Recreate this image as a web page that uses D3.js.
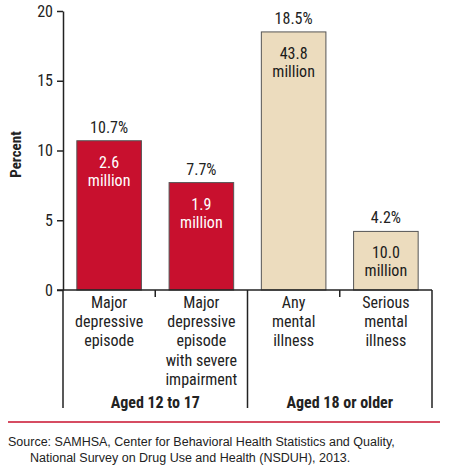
<!DOCTYPE html>
<html><head><meta charset="utf-8">
<script src="https://cdn.jsdelivr.net/npm/d3@7/dist/d3.min.js"></script>
<style>
html,body{margin:0;padding:0;background:#fff;}
svg{display:block;}
</style></head>
<body>
<svg id="chart" width="450" height="472"></svg>
<script>
const categories = ["Major depressive episode", "Major depressive episode with severe impairment", "Any mental illness", "Serious mental illness"];
const categoryLines = [["Major","depressive","episode"],["Major","depressive","episode","with severe","impairment"],["Any","mental","illness"],["Serious","mental","illness"]];
const percents = [10.7, 7.7, 18.5, 4.2];
const millions = ["2.6", "1.9", "43.8", "10.0"];
const groupOf = [0, 0, 1, 1];
const groups = ["Aged 12 to 17", "Aged 18 or older"];
const yTicks = [0, 5, 10, 15, 20];
const sourceLines = ["Source: SAMHSA, Center for Behavioral Health Statistics and Quality,", "National Survey on Drug Use and Health (NSDUH), 2013."];

const narrow = "'Liberation Sans Narrow', 'Arial Narrow', 'Roboto Condensed', sans-serif";
const regular = "'Liberation Sans', Arial, Helvetica, sans-serif";
const groupColors = ["#c8102e", "#ecdcbe"];
const textColors = ["#ffffff", "#1a1a1a"];

const svg = d3.select("#chart");
const mLeft = 63, mRight = 432, mTop = 11, mBottom = 290;
const x = d3.scaleBand().domain(categories).range([mLeft, mRight]).paddingInner(0.3).paddingOuter(0.15);
const y = d3.scaleLinear().domain([0, 20]).range([mBottom, mTop]);

// y axis
const yAxis = svg.append("g").attr("transform", `translate(${mLeft},0)`)
  .call(d3.axisLeft(y).tickValues(yTicks).tickSize(6).tickPadding(4).tickSizeOuter(0));
yAxis.select(".domain").attr("stroke", "#222").attr("stroke-width", 1.5);
yAxis.selectAll(".tick line").attr("stroke", "#222").attr("stroke-width", 1.5);
yAxis.selectAll(".tick text").attr("font-family", narrow).attr("font-size", 16).attr("fill", "#222");

svg.append("text")
  .attr("transform", `translate(21,${(mTop + mBottom) / 2 + 4}) rotate(-90)`)
  .attr("text-anchor", "middle")
  .attr("font-family", narrow).attr("font-weight", "bold").attr("font-size", 15).attr("fill", "#222")
  .text("Percent");

// bars
const bars = svg.append("g").selectAll("g").data(categories).join("g");
bars.append("rect")
  .attr("x", d => x(d))
  .attr("y", (d, i) => y(percents[i]))
  .attr("width", x.bandwidth())
  .attr("height", (d, i) => y(0) - y(percents[i]))
  .attr("fill", (d, i) => groupColors[groupOf[i]])
  .attr("stroke", "#555").attr("stroke-width", 1);
bars.append("text")
  .attr("x", d => x(d) + x.bandwidth() / 2)
  .attr("y", (d, i) => y(percents[i]) - 8)
  .attr("text-anchor", "middle")
  .attr("font-family", narrow).attr("font-size", 16).attr("fill", "#222")
  .text((d, i) => percents[i].toFixed(1) + "%");
bars.append("text")
  .attr("x", d => x(d) + x.bandwidth() / 2)
  .attr("y", (d, i) => y(percents[i]) + 27)
  .attr("text-anchor", "middle")
  .attr("font-family", narrow).attr("font-size", 16)
  .attr("fill", (d, i) => textColors[groupOf[i]])
  .text((d, i) => millions[i]);
bars.append("text")
  .attr("x", d => x(d) + x.bandwidth() / 2)
  .attr("y", (d, i) => y(percents[i]) + 45)
  .attr("text-anchor", "middle")
  .attr("font-family", narrow).attr("font-size", 16)
  .attr("fill", (d, i) => textColors[groupOf[i]])
  .text("million");

// x axis baseline
const step = x.step();
const axisG = svg.append("g").attr("stroke", "#222").attr("stroke-width", 1.5);
axisG.append("line").attr("x1", mLeft - 6).attr("x2", mRight).attr("y1", mBottom).attr("y2", mBottom);
const groupBottom = 408;
const bounds = categories.map((d, i) => x(d) - x.paddingInner() * step / 2);
bounds.push(mRight);
bounds.forEach((bx, i) => {
  const isGroupEdge = (i === 0 || i === bounds.length - 1 || (i < categories.length && groupOf[i] !== groupOf[i - 1]));
  const px = i === 0 ? mLeft : bx;
  axisG.append("line").attr("x1", px).attr("x2", px)
    .attr("y1", mBottom).attr("y2", isGroupEdge ? groupBottom : mBottom + 7);
});

// category labels
const catG = svg.append("g");
categories.forEach((d, i) => {
  const t = catG.append("text")
    .attr("text-anchor", "middle")
    .attr("font-family", narrow).attr("font-size", 16).attr("fill", "#222");
  categoryLines[i].forEach((ln, j) => {
    t.append("tspan").attr("x", x(d) + x.bandwidth() / 2).attr("y", 308 + j * 19.2).text(ln);
  });
});

// group labels
groups.forEach((g, gi) => {
  const idx = groupOf.map((v, i) => v === gi ? i : -1).filter(i => i >= 0);
  const x0 = idx[0] === 0 ? mLeft : bounds[idx[0]];
  const x1 = bounds[idx[idx.length - 1] + 1];
  svg.append("text")
    .attr("x", (x0 + x1) / 2).attr("y", 408)
    .attr("text-anchor", "middle")
    .attr("font-family", narrow).attr("font-weight", "bold").attr("font-size", 16).attr("fill", "#222")
    .text(g);
});

// red rule
svg.append("line").attr("x1", 8).attr("x2", 440).attr("y1", 422).attr("y2", 422)
  .attr("stroke", "#c8102e").attr("stroke-width", 1.5);

// source
svg.append("text").attr("x", 8).attr("y", 446)
  .attr("font-family", regular).attr("font-size", 12.5).attr("fill", "#222").text(sourceLines[0]);
svg.append("text").attr("x", 30).attr("y", 462)
  .attr("font-family", regular).attr("font-size", 12.5).attr("fill", "#222").text(sourceLines[1]);
</script>
</body></html>
